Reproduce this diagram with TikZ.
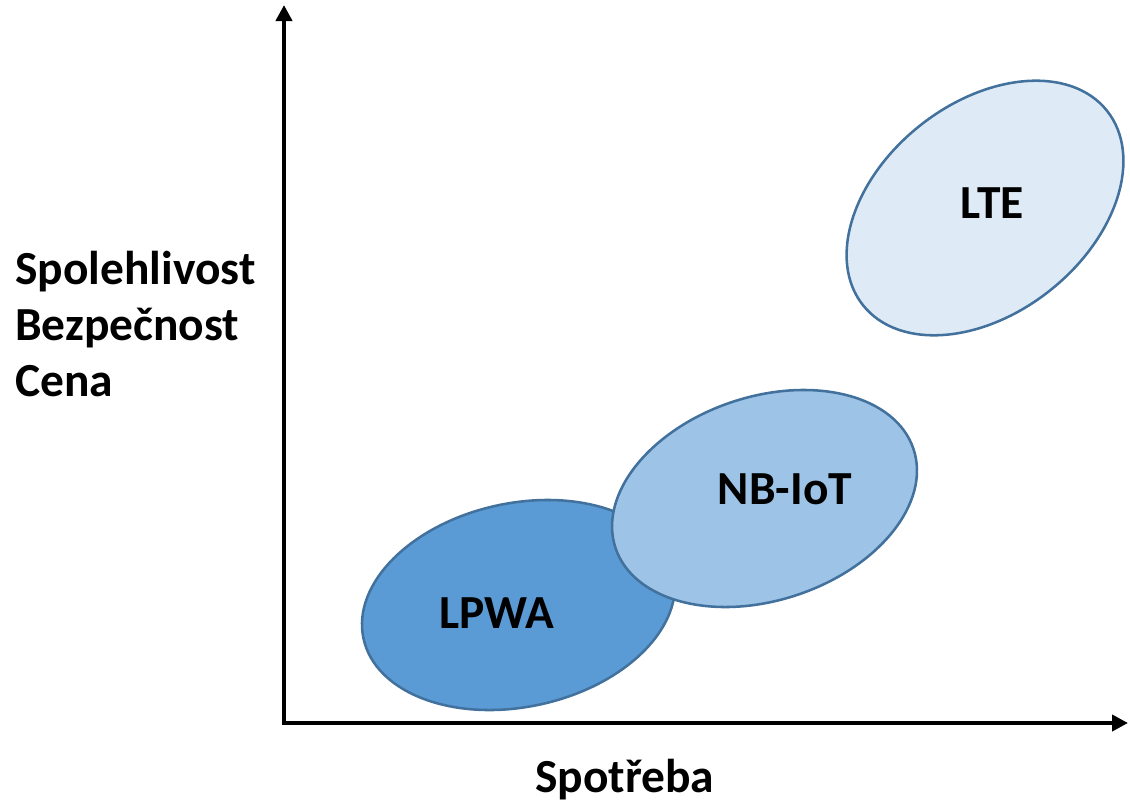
\documentclass[tikz,border=0pt]{standalone}
\usepackage{fontspec}
\setmainfont{Carlito}
\usepackage{tikz}
\usetikzlibrary{arrows.meta}

\definecolor{lpwafill}{HTML}{5B9BD5}
\definecolor{nbfill}{HTML}{9DC3E6}
\definecolor{ltefill}{HTML}{DEEBF7}
\definecolor{rim}{HTML}{41719C}

\tikzset{
  axis/.style={line width=3pt, -{Triangle[length=12pt,width=12pt]}},
  blob/.style={draw=rim, line width=1.9pt},
  lbl/.style={font=\fontsize{35.6}{42}\selectfont\bfseries, inner sep=0pt}
}

\begin{document}
\begin{tikzpicture}[x=0.75pt, y=-0.75pt]
  \useasboundingbox (0,0) rectangle (1130,803);

  \coordinate (O) at (284,723);
  \coordinate (Ytop) at (284,5);
  \coordinate (Xend) at (1128,723);
  \draw[axis] (O) -- (Ytop);
  \draw[axis] ([xshift=-1.5pt]O) -- (Xend);

  \draw[blob, fill=ltefill, rotate around={38.6:(985,208)}] (985,208) ellipse (156 and 105);
  \draw[blob, fill=lpwafill, rotate around={12.2:(518.5,605)}] (518.5,605) ellipse (158.6 and 101.8);
  \draw[blob, fill=nbfill, rotate around={18.3:(764.5,498.5)}] (764.5,498.5) ellipse (157 and 101.8);

  \node [lbl] (LTE) at (992,203) {LTE};
  \node [lbl] (NB) at (785,489) {NB-IoT};
  \node [lbl] (LPWA) at (497,613) {LPWA};

  \node [lbl, anchor=base west] (Y1) at (15,284) {Spolehlivost};
  \node [lbl, anchor=base west] (Y2) at (15,340) {Bezpečnost};
  \node [lbl, anchor=base west] (Y3) at (15,396) {Cena};
  \node [lbl, anchor=base west] (X1) at (535,792) {Spotřeba};
\end{tikzpicture}
\end{document}
